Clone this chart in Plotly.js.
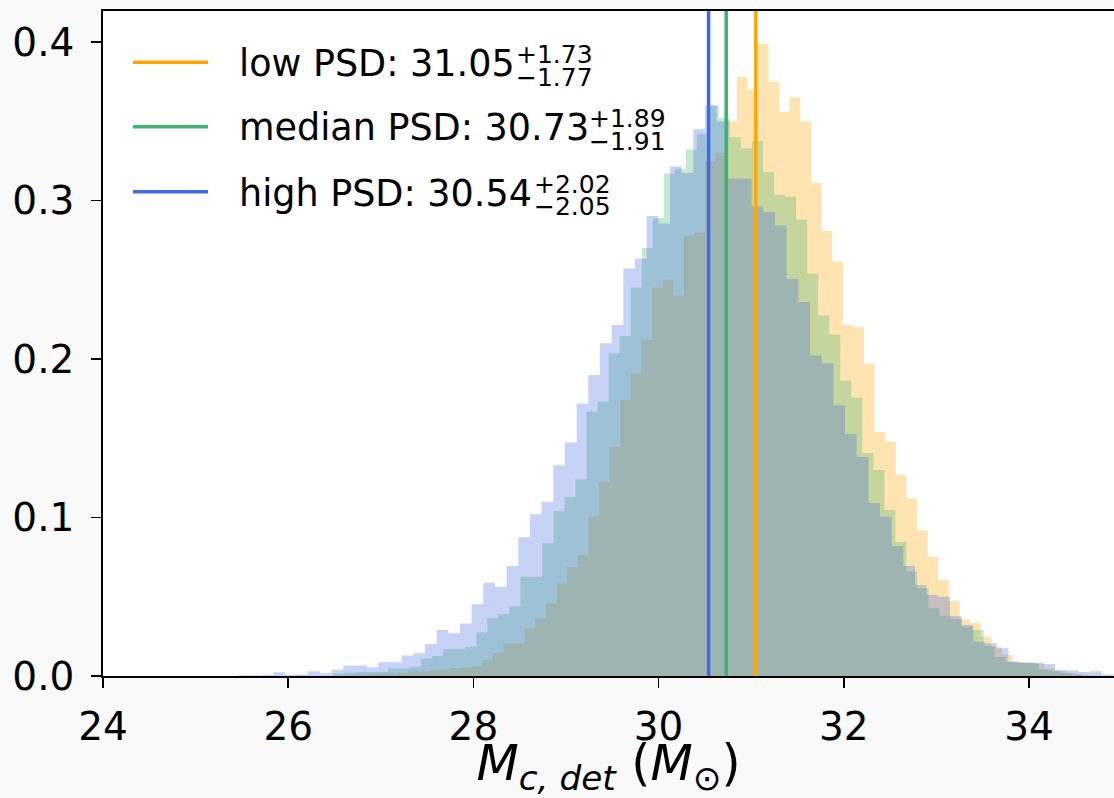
<!DOCTYPE html>
<html>
<head>
<meta charset="utf-8">
<script src="https://cdn.plot.ly/plotly-3.0.1.min.js"></script>
<style>html,body{margin:0;padding:0;background:#f9f9f9;}</style>
</head>
<body>
<div id="chart" style="width:1114px;height:798px;"></div>
<script>
// ---------- data ----------
const seriesLabels = ['low PSD', 'median PSD', 'high PSD'];
const seriesColors = ['#FFA500', '#3CB371', '#4169E1'];
const medians = [31.05, 30.73, 30.54];
const errPlus = [1.73, 1.89, 2.02];
const errMinus = [1.77, 1.91, 2.05];

// histogram bins (density) for each PSD
const lowBinStart = 26.608, lowBinWidth = 0.1145;
const lowDensity = [0.0005,0.0008,0.001,0.0015,0.0015,0.002,0.003,0.003,0.0035,0.004,
  0.005,0.0055,0.006,0.0103,0.0145,0.0206,0.0206,0.030,0.0364,0.0459,
  0.0585,0.069,0.0763,0.1005,0.1226,0.1447,0.1741,0.191,0.212,0.245,
  0.25,0.24,0.278,0.28,0.325,0.33,0.35,0.378,0.37,0.399,
  0.375,0.356,0.365,0.35,0.311,0.281,0.2614,0.2215,0.22,0.197,
  0.154,0.148,0.127,0.112,0.092,0.0753,0.0606,0.0475,0.0358,0.0336,
  0.0248,0.0185,0.0132,0.0086,0.0086,0.0074,0.0048,0.003,0.0017,0.001,0.0005];

const medBinStart = 26.483, medBinWidth = 0.1191;
const medDensity = [0.0015,0.002,0.0025,0.0025,0.0025,0.0048,0.0048,0.0059,0.0111,0.0126,
  0.017,0.017,0.0185,0.0275,0.0364,0.039,0.044,0.0627,0.0627,0.0837,
  0.104,0.113,0.124,0.1668,0.173,0.2036,0.2145,0.245,0.27,0.2888,
  0.317,0.32,0.332,0.342,0.36,0.352,0.34,0.333,0.3375,0.318,
  0.3036,0.3024,0.288,0.254,0.2275,0.2155,0.1865,0.1756,0.1407,0.13,
  0.1047,0.0847,0.066,0.0553,0.0427,0.038,0.036,0.031,0.029,0.019,
  0.012,0.009,0.0082,0.008,0.004,0.003,0.002,0.001];

const highBinStart = 25.461, highBinWidth = 0.126;
const highDensity = [0.0005,0.0005,0.0008,0.0023,0.0008,0.001,0.003,0.0018,0.004,0.0067,
  0.0067,0.0055,0.0086,0.0086,0.013,0.0143,0.0202,0.029,0.0269,0.0332,
  0.0452,0.0589,0.0563,0.0694,0.0875,0.102,0.110,0.133,0.1474,0.172,
  0.19,0.21,0.2215,0.2572,0.2633,0.2903,0.2855,0.3215,0.3174,0.345,
  0.36,0.35,0.3137,0.3137,0.2963,0.2927,0.2843,0.2505,0.236,0.2022,
  0.1974,0.1708,0.1527,0.1382,0.1092,0.1005,0.082,0.0694,0.0574,0.0511,
  0.05,0.0379,0.0322,0.0216,0.0206,0.0175,0.009,0.0084,0.0084,0.0075,
  0.0038,0.0035,0.0025,0.003,0.001];

const xTickVals = [24, 26, 28, 30, 32, 34];
const yTickVals = [0, 0.1, 0.2, 0.3, 0.4];
const yTickText = ['0.0', '0.1', '0.2', '0.3', '0.4'];
const xRange = [24, 34.918];
const yRange = [0, 0.4196];

// ---------- build step-filled histograms ----------
function stepTrace(start, width, dens, color) {
  const xs = [], ys = [];
  for (let i = 0; i < dens.length; i++) { xs.push(start + i * width); ys.push(dens[i]); }
  xs.push(start + dens.length * width); ys.push(dens[dens.length - 1]);
  const rgb = color.match(/[0-9a-f]{2}/gi).map(h => parseInt(h, 16));
  return {
    type: 'scatter', mode: 'lines', x: xs, y: ys,
    line: {shape: 'hv', width: 0, color: color},
    fill: 'tozeroy', fillcolor: `rgba(${rgb[0]},${rgb[1]},${rgb[2]},0.3)`,
    hoverinfo: 'skip', showlegend: false
  };
}
const bins = [
  [lowBinStart, lowBinWidth, lowDensity],
  [medBinStart, medBinWidth, medDensity],
  [highBinStart, highBinWidth, highDensity]
];
const traces = bins.map((b, i) => stepTrace(b[0], b[1], b[2], seriesColors[i]));

// ---------- median lines ----------
const shapes = medians.map((m, i) => ({
  type: 'line', xref: 'x', yref: 'paper', x0: m, x1: m, y0: 0, y1: 1,
  line: {color: seriesColors[i], width: 3.5}, layer: 'above'
}));

// ---------- hand-made legend (stacked super/subscripts) ----------
const FONT = 'DejaVu Sans';
const legRowY = [0.9211, 0.8241, 0.7263];
const legTextLeft = 0.1335;
const legSupLeft = [0.4075, 0.4797, 0.4253];
const legSupDy = 0.0135, legSubDy = 0.0205;
const annotations = [];
seriesLabels.forEach((lab, i) => {
  shapes.push({type: 'line', xref: 'paper', yref: 'paper', x0: 0.0297, x1: 0.1039,
    y0: legRowY[i] + 0.002, y1: legRowY[i] + 0.002, line: {color: seriesColors[i], width: 3.5}});
  annotations.push({xref: 'paper', yref: 'paper', x: legTextLeft, y: legRowY[i],
    xanchor: 'left', yanchor: 'middle', showarrow: false, borderpad: 0,
    text: lab + ': ' + medians[i].toFixed(2), font: {family: FONT, size: 36.5, color: '#000'}});
  annotations.push({xref: 'paper', yref: 'paper', x: legSupLeft[i], y: legRowY[i] + legSupDy,
    xanchor: 'left', yanchor: 'middle', showarrow: false, borderpad: 0,
    text: '+' + errPlus[i].toFixed(2), font: {family: FONT, size: 25, color: '#000'}});
  annotations.push({xref: 'paper', yref: 'paper', x: legSupLeft[i], y: legRowY[i] - legSubDy,
    xanchor: 'left', yanchor: 'middle', showarrow: false, borderpad: 0,
    text: '\u2212' + errMinus[i].toFixed(2), font: {family: FONT, size: 25, color: '#000'}});
});

const layout = {
  width: 1114, height: 798,
  margin: {l: 103, r: 0, t: 11, b: 122, pad: 0},
  paper_bgcolor: '#f9f9f9', plot_bgcolor: '#ffffff',
  font: {family: FONT, color: '#000'},
  showlegend: false,
  xaxis: {
    range: xRange, tickvals: xTickVals, ticks: 'outside', ticklen: 10, tickwidth: 1.8,
    tickcolor: '#000', showline: true, linecolor: '#000', linewidth: 1.8, mirror: true,
    showgrid: false, zeroline: false, ticklabelstandoff: 5,
    tickfont: {family: FONT, size: 39, color: '#000'},
    title: {text: '<i>M</i><sub><i>c, det</i></sub> (<i>M</i><sub>\u2299</sub>)',
      font: {family: FONT, size: 49, color: '#000'}, standoff: 7}
  },
  yaxis: {
    range: yRange, tickvals: yTickVals, ticktext: yTickText, ticks: 'outside', ticklen: 10,
    tickwidth: 1.8, tickcolor: '#000', showline: true, linecolor: '#000', linewidth: 1.8,
    showgrid: false, zeroline: false, ticklabelstandoff: 9,
    tickfont: {family: FONT, size: 39, color: '#000'}
  },
  shapes: shapes,
  annotations: annotations
};

Plotly.newPlot('chart', traces, layout, {displayModeBar: false, staticPlot: true});
</script>
</body>
</html>
